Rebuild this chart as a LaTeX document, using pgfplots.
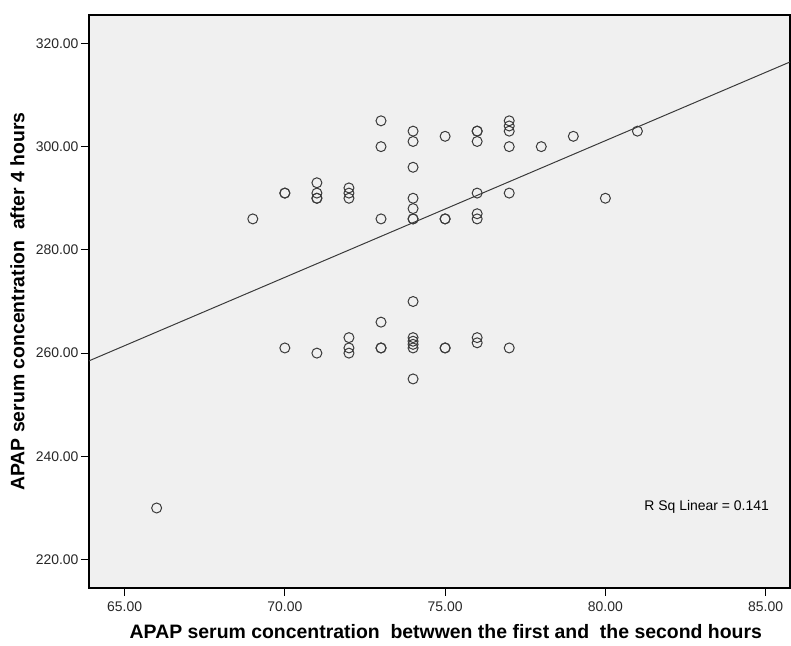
\documentclass[border=0pt]{standalone}
\usepackage{pgfplots}
\pgfplotsset{compat=1.18}
\usepackage{fontspec}
\setmainfont{Liberation Sans}
\definecolor{plotbg}{HTML}{F0F0F0}
\definecolor{mk}{HTML}{3A3A3A}
\begin{document}
\begin{tikzpicture}
\begin{axis}[
  scale only axis,
  width=701bp, height=573bp,
  xmin=63.89, xmax=85.76,
  ymin=214.5, ymax=325.5,
  xtick={65,70,75,80,85},
  ytick={220,240,260,280,300,320},
  axis background/.style={fill=plotbg},
  axis line style={black, line width=1.2pt},
  tick align=outside,
  major tick length=8bp,
  tick style={black, line width=1pt},
  xtick pos=bottom, ytick pos=left,
  /pgf/number format/assume math mode=true,
  /pgf/number format/fixed, /pgf/number format/fixed zerofill,
  /pgf/number format/precision=2,
  ticklabel style={font=\fontsize{14}{16}\selectfont, text=black!85},
  xticklabel style={yshift=-2bp},
  yticklabel style={xshift=1bp},
  xlabel={APAP serum concentration\ \ betwwen the first and\ \ the second hours},
  ylabel={APAP serum concentration\ \ after 4 hours},
  xlabel style={font=\bfseries\fontsize{19.5}{22}\selectfont, at={(axis description cs:0.509,-0.076)}, anchor=center},
  ylabel style={font=\bfseries\fontsize{19.5}{22}\selectfont, at={(axis description cs:-0.102,0.5)}, anchor=center, rotate=0},
  clip=true,
]
\addplot[only marks, mark=o, mark size=5bp, mark options={draw=mk, line width=1pt}] coordinates {
(66,230)
(69,286)
(70,291) (70,291) (70,261)
(71,293) (71,291) (71,290) (71,290) (71,260)
(72,292) (72,291) (72,290) (72,263) (72,261) (72,260)
(73,305) (73,300) (73,286) (73,266) (73,261) (73,261)
(74,303) (74,301) (74,296) (74,290) (74,288) (74,286) (74,286) (74,270) (74,263) (74,262.3) (74,261.7) (74,261) (74,255)
(75,302) (75,286) (75,286) (75,261) (75,261)
(76,303) (76,303) (76,301) (76,291) (76,287) (76,286) (76,263) (76,262)
(77,305) (77,304) (77,303) (77,300) (77,291) (77,261)
(78,300) (79,302) (80,290) (81,303)
};
\addplot[mk, line width=1pt] coordinates {(63.89,258.5) (85.76,316.4)};
\node[font=\fontsize{14}{16}\selectfont, text=black] at (axis cs:83.16,230.3) {R Sq Linear = 0.141};
\end{axis}
\pgfresetboundingbox
\path[use as bounding box] (current axis.south west) ++(-89bp,-58bp) rectangle ([xshift=1bp,yshift=15bp]current axis.north east);
\end{tikzpicture}
\end{document}
